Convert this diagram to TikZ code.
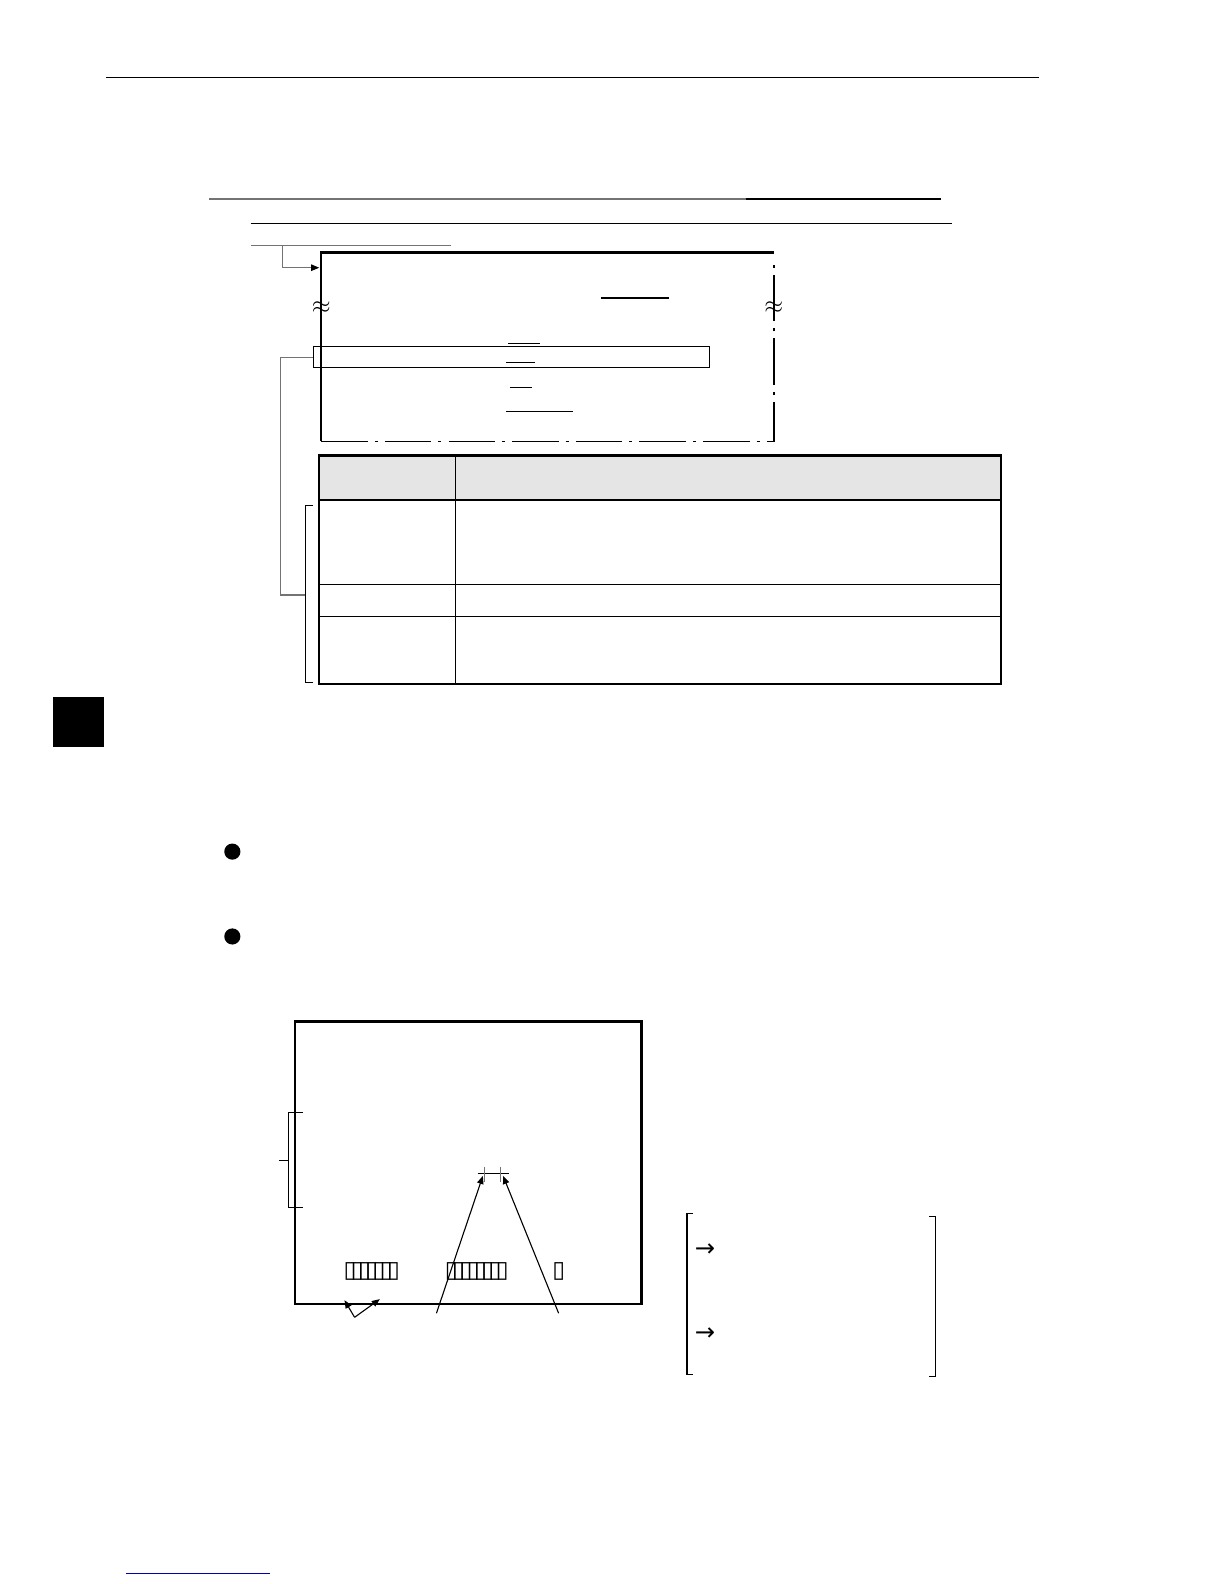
\documentclass[tikz,border=0pt]{standalone}
\usepackage{fontspec}
\newfontfamily\symfont{DejaVu Sans}
\usetikzlibrary{positioning,calc,arrows.meta}
\newcommand{\tbox}{\makebox[3.6pt]{▯}}

\begin{document}
\begin{tikzpicture}[x=0.5pt,y=-0.5pt,
        thinrule/.style={line width=0.55pt},
        greyrule/.style={line width=0.55pt,draw=black!55},
        heavy/.style={line width=1.2pt},
        dashdot/.style={line width=0.8pt,dash pattern=on 23pt off 3.5pt on 1.5pt off 3.5pt},
        brk/.style={inner sep=0pt,font=\large},
        tofu/.style={inner sep=0pt,font=\symfont\fontsize{11.5}{12}\selectfont},
        arrsym/.style={inner sep=0pt,font=\symfont\large},
        tip/.style={-{Triangle[black,length=4pt,width=3.2pt]}}]
    \useasboundingbox (0,0) rectangle (1212,1568);
    % page header rule
    \draw[thinrule] (105,77) -- (1028,77);
    % heading rules
    \draw[greyrule] (207,197) -- (738,197);
    \draw[thinrule] (738,197) -- (931,197);
    \draw[thinrule] (248,221) -- (942,221);
    \draw[greyrule] (248,243) -- (446,243);
    % screen frame (top part)
    \coordinate (scr nw) at (318,250);
    \coordinate (scr se) at (766,437);
    \draw[heavy] (766,250) -- (scr nw) -- (318,437);
    \draw[dashdot] (318,437) -- (scr se) -- (766,256);
    \node[brk] (brk l) at (318,305) {$\approx$};
    \node[brk] (brk r) at (766,305) {$\approx$};
    \foreach \xa/\xb/\yy in {595/662/295, 503/535/340, 501/530/359, 505/527/384, 501/567/407}
        \draw[thinrule] (\xa,\yy) -- (\xb,\yy);
    % highlighted line
    \draw[thinrule] (310,343) rectangle (702,364);
    \coordinate (hl w) at (310,353.5);
    \coordinate (hd) at (280,243);
    \draw[greyrule,tip] (hd) |- (316,265);
    % table
    \fill[black!10] (316,451) rectangle (991,495);
    \draw[thinrule] (316,579) -- (991,579);
    \draw[thinrule] (316,610) -- (991,610);
    \draw[thinrule] (451,451) -- (451,677);
    \draw[heavy] (316,495) -- (991,495);
    \draw[heavy] (316,451) rectangle (991,677);
    % bracket on the table rows
    \draw[thinrule] (310,500) -| (302,676) -- (310,676);
    \coordinate (br mid) at (302,589);
    \draw[greyrule] (hl w) -| (278,589) -- (br mid);
    % chapter tab
    \fill (52,690) rectangle (103,739);
    % bullets
    \fill (230,843) circle (4pt);
    \fill (230,927) circle (4pt);
    % screen (lower)
    \draw[heavy] (292,1011) rectangle (635,1291);
    \draw[thinrule] (300,1101) -| (286,1195) -- (300,1195);
    \draw[thinrule] (276,1149) -- (286,1149);
    \draw[thinrule] (473,1162) -- (504,1162);
    \draw[greyrule] (480,1155) -- (480,1170);
    \draw[greyrule] (495,1155) -- (495,1170);
    \coordinate (mk a) at (478,1164);
    \coordinate (mk b) at (498,1164);
    \draw[thinrule,tip] (432,1300) -- (mk a);
    \draw[thinrule,tip] (553,1300) -- (mk b);
    \coordinate (vee) at (351,1304);
    \draw[thinrule,tip] (vee) -- (341,1287);
    \draw[thinrule,tip] (vee) -- (376,1286);
    \node[tofu] (tofu a) at (368,1259) {\tbox\tbox\tbox\tbox\tbox\tbox\tbox};
    \node[tofu] (tofu b) at (472,1259) {\tbox\tbox\tbox\tbox\tbox\tbox\tbox\tbox};
    \node[tofu] (tofu c) at (553,1259) {\tbox};
    % brackets on the right
    \draw[thinrule] (686,1201) -| (680,1361) -- (686,1361);
    \draw[thinrule] (920,1204) -| (926,1363) -- (920,1363);
    \node[arrsym] (arr a) at (698,1237) {→};
    \node[arrsym] (arr b) at (698,1321) {→};
    % footer link
    \draw[blue!70!black,line width=0.5pt] (125,1558) -- (267,1558);
\end{tikzpicture}
\end{document}
